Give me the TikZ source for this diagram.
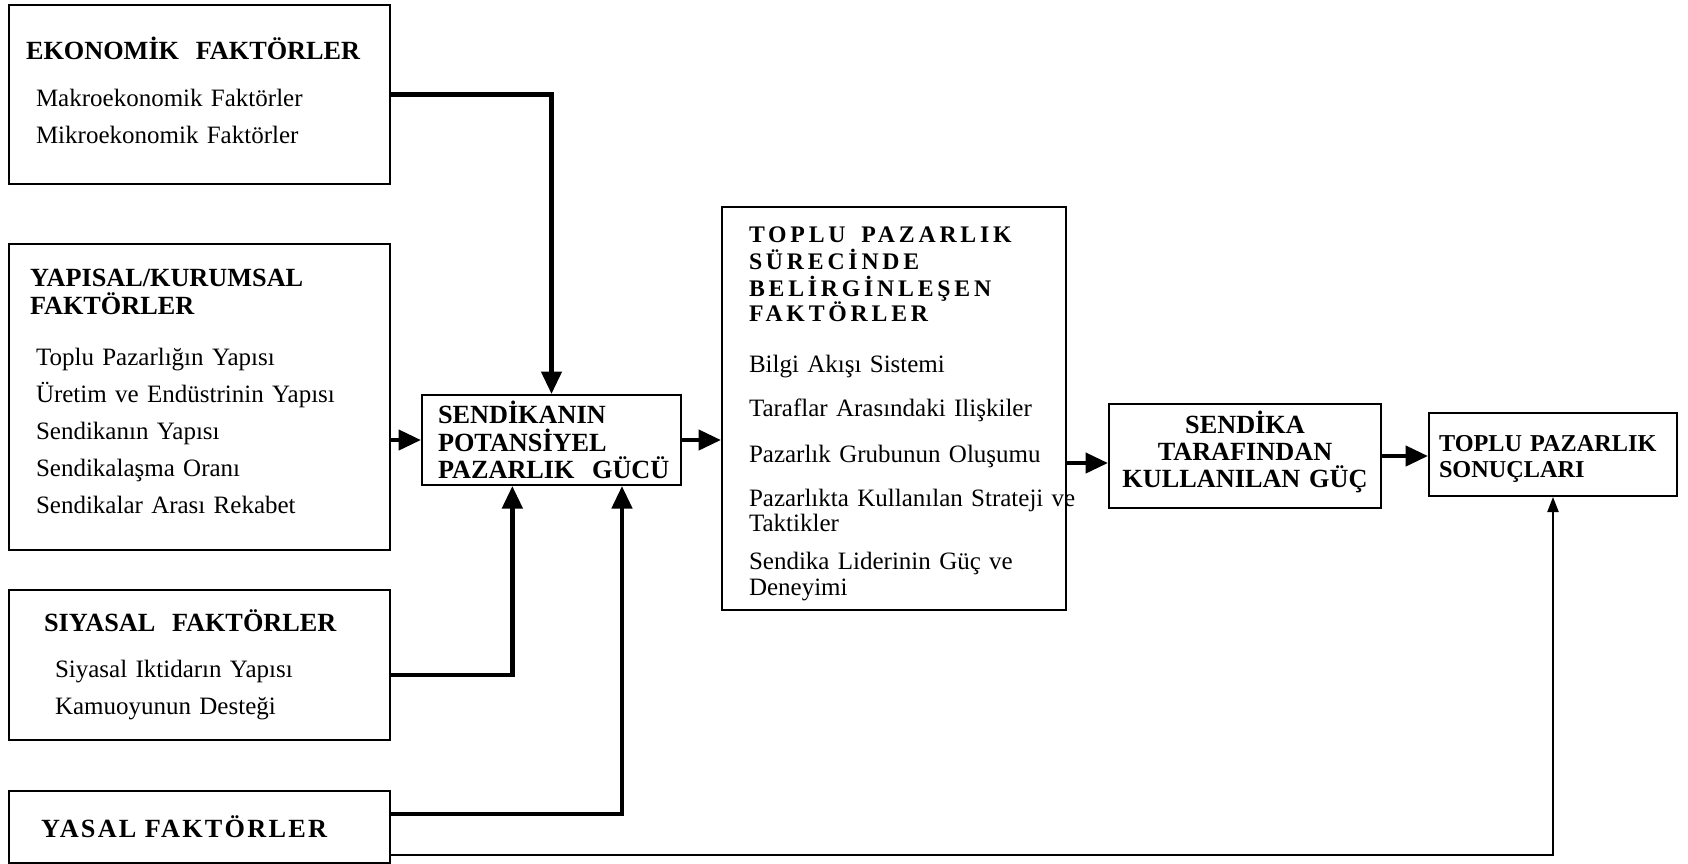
\documentclass[tikz,border=0pt]{standalone}
\usepackage{fontspec}
\setmainfont{Liberation Serif}[WordSpace=0.85]
\newfontfamily\genisaralik[LetterSpace=16]{Liberation Serif}
\newfontfamily\azaralik[LetterSpace=8.5]{Liberation Serif}
\newcommand{\baslikyaz}[1]{{\bfseries\fontsize{10.5}{12}\selectfont #1}}
\usetikzlibrary{arrows.meta, calc}

\begin{document}
\begin{tikzpicture}[x=0.4pt, y=-0.4pt,
  kutu/.style={draw, line width=0.8pt, anchor=north west, inner xsep=0pt,
               inner ysep=0pt, align=left, font=\fontsize{10}{14.8}\selectfont},
  kalin/.style={line width=1.8pt, -{Triangle[length=9pt, width=8pt]}},
  ince/.style={line width=0.6pt, -{Triangle[length=6pt, width=4.5pt]}}]
  \useasboundingbox (0,0) rectangle (1688,863);

  % etken kutulari (sol sutun)
  \node[kutu, text width=152.4pt, minimum height=71.6pt] (eko) at (8,4)
    {\hspace*{6.8pt}\baslikyaz{EKONOMİK\ \ FAKTÖRLER}\\[4pt]
     \hspace*{10.8pt}Makroekonomik Faktörler\\
     \hspace*{10.8pt}Mikroekonomik Faktörler\rule[-3.4pt]{0pt}{3.4pt}};
  \node[kutu, text width=152.4pt, minimum height=122.4pt] (yap) at (8,243)
    {\hspace*{8.4pt}\baslikyaz{YAPISAL/KURUMSAL}\\[-3.6pt]
     \hspace*{8.4pt}\baslikyaz{FAKTÖRLER}\\[5.6pt]
     \hspace*{10.8pt}Toplu Pazarlığın Yapısı\\
     \hspace*{10.8pt}Üretim ve Endüstrinin Yapısı\\
     \hspace*{10.8pt}Sendikanın Yapısı\\
     \hspace*{10.8pt}Sendikalaşma Oranı\\
     \hspace*{10.8pt}Sendikalar Arası Rekabet\rule[-4.3pt]{0pt}{4.3pt}};
  \node[kutu, text width=152.4pt, minimum height=60pt] (siy) at (8,589)
    {\hspace*{14pt}\baslikyaz{SIYASAL\ \ FAKTÖRLER}\\[3.6pt]
     \hspace*{18.4pt}Siyasal Iktidarın Yapısı\\
     \hspace*{18.4pt}Kamuoyunun Desteği};
  \node[kutu, text width=152.4pt, minimum height=28.8pt] (yas) at (8,790)
    {\hspace*{12.8pt}\baslikyaz{\azaralik YASAL FAKTÖRLER}};

  % orta ve sag kutular
  \node[kutu, text width=103.6pt, minimum height=36pt,
        font=\bfseries\fontsize{10.5}{11}\selectfont] (sen) at (421,394)
    {\hspace*{6.4pt}SENDİKANIN\\
     \hspace*{6.4pt}POTANSİYEL\\
     \hspace*{6.4pt}\mbox{PAZARLIK\ \ GÜCÜ}};
  \node[kutu, text width=137.6pt, minimum height=161.2pt,
        font=\fontsize{10}{10}\selectfont] (toplu) at (721,206)
    {\hspace*{10.8pt}\rule{0pt}{10.6pt}{\genisaralik\bfseries\fontsize{9.5}{10}\selectfont TOPLU\hspace{3pt} PAZARLIK}\\[0.8pt]
     \hspace*{10.8pt}{\genisaralik\bfseries\fontsize{9.5}{10}\selectfont SÜRECİNDE}\\[0.8pt]
     \hspace*{10.8pt}{\genisaralik\bfseries\fontsize{9.5}{10}\selectfont BELİRGİNLEŞEN}\\
     \hspace*{10.8pt}{\genisaralik\bfseries\fontsize{9.5}{10}\selectfont FAKTÖRLER}\\[10.4pt]
     \hspace*{10.8pt}Bilgi Akışı Sistemi\\[7.6pt]
     \hspace*{10.8pt}Taraflar Arasındaki Ilişkiler\\[8.4pt]
     \hspace*{10.8pt}Pazarlık Grubunun Oluşumu\\[7.6pt]
     \hspace*{10.8pt}\mbox{Pazarlıkta Kullanılan Strateji ve}\\
     \hspace*{10.8pt}Taktikler\\[5.2pt]
     \hspace*{10.8pt}Sendika Liderinin Güç ve\\[0.4pt]
     \hspace*{10.8pt}Deneyimi};
  \node[kutu, text width=108.8pt, minimum height=41.6pt, align=center,
        font=\bfseries\fontsize{10.5}{10.8}\selectfont] (kul) at (1108,403)
    {SENDİKA\\ TARAFINDAN\\ KULLANILAN GÜÇ\rule[-5.8pt]{0pt}{5.8pt}};
  \node[kutu, text width=99.2pt, minimum height=33.2pt,
        font=\bfseries\fontsize{9.7}{10.4}\selectfont] (son) at (1428,412)
    {\hspace*{4pt}\rule{0pt}{10.2pt}\mbox{TOPLU PAZARLIK}\\
     \hspace*{4pt}SONUÇLARI};

  % baglantilar
  \draw[kalin] (eko.east) -| (sen.north);
  \draw[kalin] (yap.east |- sen.west) -- (sen.west);
  \draw[kalin] ([yshift=-4pt]siy.east) -| ($(sen.south west)!0.35!(sen.south east)$);
  \draw[kalin] ([yshift=5.2pt]yas.east) -| ($(sen.south west)!0.77!(sen.south east)$);
  \draw[kalin] (sen.east) -- (sen.east -| toplu.west);
  \draw[kalin] ([yshift=-2.8pt]kul.west -| toplu.east) -- ([yshift=-2.8pt]kul.west);
  \draw[kalin] (kul.east) -- (kul.east -| son.west);
  \draw[ince] ([yshift=-11.2pt]yas.east) -| (son.south);
\end{tikzpicture}
\end{document}
